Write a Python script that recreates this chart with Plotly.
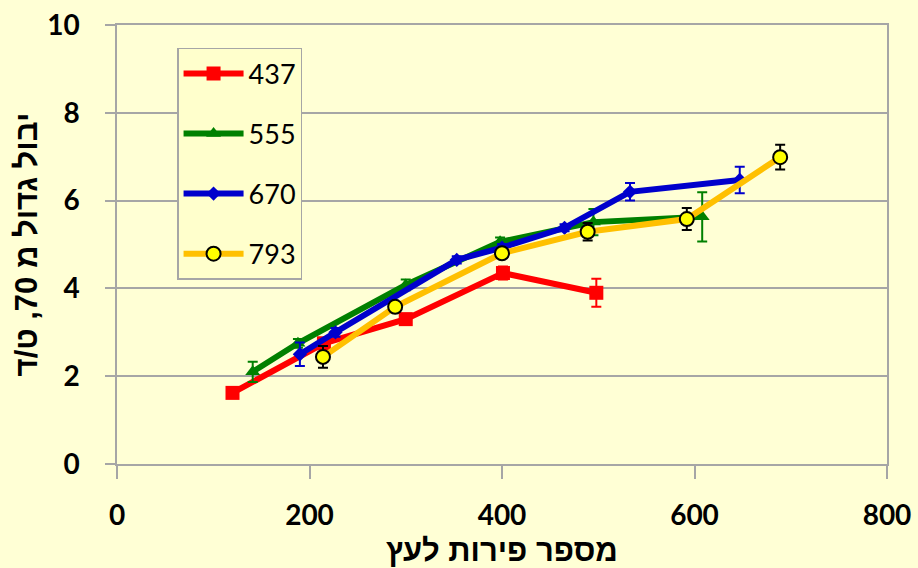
import plotly.graph_objects as go

# ---- data ----
series_names = ["437", "555", "670", "793"]

x_437 = [120, 215, 300, 401, 498]
y_437 = [1.62, 2.75, 3.30, 4.35, 3.90]
e_437 = [0.08, 0.08, 0.10, 0.15, 0.32]

x_555 = [141, 188, 300, 398, 495, 608]
y_555 = [2.10, 2.75, 4.08, 5.06, 5.51, 5.63]
e_555 = [0.23, 0.10, 0.12, 0.10, 0.30, 0.56]

x_670 = [190, 227, 353, 400, 465, 533, 647]
y_670 = [2.50, 3.00, 4.65, 4.93, 5.38, 6.20, 6.47]
e_670 = [0.27, 0.10, 0.08, 0.08, 0.08, 0.20, 0.30]

x_793 = [214, 289, 400, 489, 592, 689]
y_793 = [2.44, 3.58, 4.80, 5.29, 5.58, 6.99]
e_793 = [0.25, 0.10, 0.10, 0.20, 0.25, 0.28]

x_ticks = [0, 200, 400, 600, 800]
y_ticks = [0, 2, 4, 6, 8, 10]

x_title = "מספר פירות לעץ"
y_title = "יבול גדול מ 70, ט/ד"

# ---- styles ----
BG = "#FFFFD5"
GRID = "#A6A6A6"
TITLE_FONT = dict(family="Liberation Sans", size=31, color="#000000", weight="bold")
TICK_FONT = dict(family="Lato", size=28, color="#000000", weight="bold")

styles = [
    dict(line="#FF0000", marker=dict(symbol="square", size=14, color="#FF0000"), err="#FF0000"),
    dict(line="#008000", marker=dict(symbol="triangle-up", size=13, color="#008000"), err="#008000"),
    dict(line="#0000CC", marker=dict(symbol="diamond", size=11, color="#0000CC"), err="#0000CC"),
    dict(line="#FFC000", marker=dict(symbol="circle", size=14, color="#FFFF00",
                                      line=dict(color="#000000", width=2)), err="#000000"),
]
data = [(x_437, y_437, e_437), (x_555, y_555, e_555), (x_670, y_670, e_670), (x_793, y_793, e_793)]

fig = go.Figure()
for name, (xs, ys, es), st in zip(series_names, data, styles):
    fig.add_trace(go.Scatter(
        x=xs, y=ys, name=name, mode="lines+markers",
        line=dict(color=st["line"], width=6),
        marker=st["marker"],
        error_y=dict(type="data", array=es, visible=True, color=st["err"], thickness=2, width=5),
        legendgroup=name,
    ))

fig.update_layout(
    width=918, height=568,
    paper_bgcolor=BG, plot_bgcolor=BG,
    margin=dict(l=117, r=31, t=25, b=104, autoexpand=False),
    font=dict(family="Lato", color="#000000"),
    showlegend=True,
    legend=dict(
        x=0.078, y=0.948, xanchor="left", yanchor="top",
        bgcolor="#FFFFCC", bordercolor=GRID, borderwidth=1.5,
        font=dict(family="Lato", size=27, color="#000000"),
        itemwidth=60, tracegroupgap=22, traceorder="grouped",
    ),
    xaxis=dict(
        range=[0, 800], tickvals=x_ticks, ticktext=[str(v) for v in x_ticks],
        showgrid=False, zeroline=False, automargin=False,
        showline=True, linecolor=GRID, linewidth=1.5, mirror=True,
        ticks="outside", ticklen=13, tickcolor=GRID, tickwidth=1.5,
        ticklabelstandoff=13,
        tickfont=TICK_FONT,
    ),
    yaxis=dict(
        range=[0, 10], tickvals=y_ticks, ticktext=[str(v) for v in y_ticks],
        showgrid=True, gridcolor=GRID, gridwidth=1.5, zeroline=False, automargin=False,
        showline=True, linecolor=GRID, linewidth=1.5, mirror=True,
        ticks="outside", ticklen=10, tickcolor=GRID, tickwidth=1.5,
        ticklabelstandoff=20,
        tickfont=TICK_FONT,
    ),
    annotations=[
        dict(text=x_title, xref="paper", yref="paper", x=0.5, y=-0.196,
             xanchor="center", yanchor="middle", showarrow=False, font=TITLE_FONT),
        dict(text=y_title, xref="paper", yref="paper", x=-0.117, y=0.5,
             xanchor="center", yanchor="middle", showarrow=False, textangle=-90,
             font=TITLE_FONT),
    ],
)

fig.write_html(
    "out.html",
    config={"displayModeBar": False},
    post_script="document.body.style.margin='0';document.body.style.background='" + BG + "';",
)
